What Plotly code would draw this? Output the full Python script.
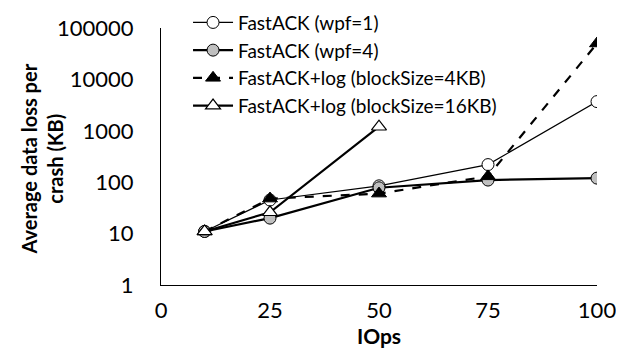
import plotly.graph_objects as go

iops = [10, 25, 50, 75, 100]
iops_16kb = [10, 25, 50]
wpf1 = [11, 45, 85, 220, 3700]
wpf4 = [11, 20, 78, 110, 120]
log_4kb = [11, 48, 60, 130, 50000]
log_16kb = [11, 26, 1200]
names = ["FastACK (wpf=1)", "FastACK (wpf=4)",
         "FastACK+log (blockSize=4KB)", "FastACK+log (blockSize=16KB)"]
x_ticks = [0, 25, 50, 75, 100]
y_ticks = [1, 10, 100, 1000, 10000, 100000]

FONT = "Lato, Calibri, Carlito, sans-serif"

fig = go.Figure()
fig.add_trace(go.Scatter(
    x=iops, y=wpf1, name=names[0], mode="lines+markers",
    line=dict(color="black", width=1.2),
    marker=dict(symbol="circle", size=12, color="white",
                line=dict(color="black", width=1))))
fig.add_trace(go.Scatter(
    x=iops, y=wpf4, name=names[1], mode="lines+markers",
    line=dict(color="black", width=2.2),
    marker=dict(symbol="circle", size=12, color="#bfbfbf",
                line=dict(color="black", width=1))))
fig.add_trace(go.Scatter(
    x=iops, y=log_4kb, name=names[2], mode="lines+markers",
    line=dict(color="black", width=2.2, dash="dash"),
    marker=dict(symbol="triangle-up", size=13, color="black",
                line=dict(color="black", width=1))))
fig.add_trace(go.Scatter(
    x=iops_16kb, y=log_16kb, name=names[3], mode="lines+markers",
    line=dict(color="black", width=2.2),
    marker=dict(symbol="triangle-up", size=13, color="white",
                line=dict(color="black", width=1.2))))

fig.update_layout(
    width=624, height=354,
    margin=dict(l=153, r=35, t=20, b=77, autoexpand=False),
    paper_bgcolor="white", plot_bgcolor="white",
    font=dict(family=FONT, color="black"),
    showlegend=True,
    legend=dict(x=0.062, y=1.095, xanchor="left", yanchor="top",
                bgcolor="rgba(0,0,0,0)", font=dict(size=19, family=FONT),
                itemwidth=40, tracegroupgap=0),
)
fig.update_xaxes(
    range=[0, 100], tickvals=x_ticks, ticktext=[str(v) for v in x_ticks],
    showline=True, linecolor="black", linewidth=1.3, showgrid=False,
    zeroline=False, ticks="", ticklabelstandoff=5, automargin=False,
    tickfont=dict(size=22, family=FONT),
    title=dict(text="<b>IOps</b>", font=dict(size=21, family=FONT), standoff=3),
)
fig.update_yaxes(
    type="log", range=[0, 5], tickvals=y_ticks,
    ticktext=[str(v) for v in y_ticks],
    showline=True, linecolor="black", linewidth=1.3, showgrid=False,
    zeroline=False, ticks="", ticklabelstandoff=22, automargin=False,
    tickfont=dict(size=22, family=FONT),
)
fig.add_annotation(
    text="<b>Average data loss per<br>crash (KB)</b>", textangle=-90,
    xref="paper", yref="paper", x=-0.272, y=0.49,
    xanchor="center", yanchor="middle", showarrow=False,
    font=dict(size=20, family=FONT), align="center")

fig.write_html("out.html")
